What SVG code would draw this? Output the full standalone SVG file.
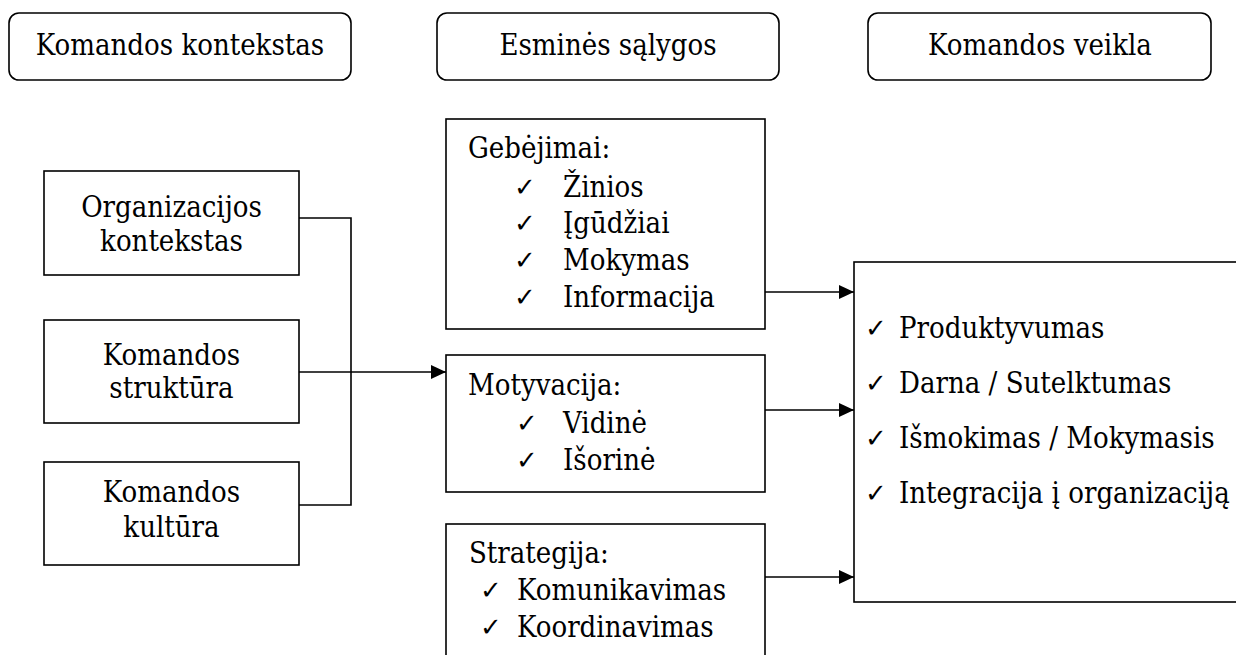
<svg xmlns="http://www.w3.org/2000/svg" width="1236" height="655" viewBox="0 0 1236 655">
<style>
.box{fill:#fff;stroke:#000;stroke-width:1.6}
.t{font-size:29px;fill:#000}
.c{text-anchor:middle}
.ck{font-size:26px;fill:#000}
.ln{fill:none;stroke:#000;stroke-width:1.6}
</style>
<defs>
<marker id="ah" markerUnits="userSpaceOnUse" markerWidth="16" markerHeight="14" refX="15" refY="7" orient="auto">
<path d="M0,0 L15,7 L0,14 Z" fill="#000"/>
</marker>
</defs>
<g id="head1"><rect class="box" x="9" y="13" width="342" height="67" rx="10"/><text class="t c" x="180" y="55" font-family="DejaVu Serif Condensed">Komandos kontekstas</text></g>
<g id="head2"><rect class="box" x="437" y="13" width="342" height="67" rx="10"/><text class="t c" x="608" y="55" font-family="DejaVu Serif Condensed">Esminės sąlygos</text></g>
<g id="head3"><rect class="box" x="868" y="13" width="343" height="67" rx="10"/><text class="t c" x="1040" y="55" font-family="DejaVu Serif Condensed">Komandos veikla</text></g>
<g id="org"><rect class="box" x="44" y="171" width="255" height="104"/><text class="t c" x="171.5" y="217" font-family="DejaVu Serif Condensed">Organizacijos</text><text class="t c" x="171.5" y="251" font-family="DejaVu Serif Condensed">kontekstas</text></g>
<g id="struk"><rect class="box" x="44" y="320" width="255" height="103"/><text class="t c" x="171.5" y="365" font-family="DejaVu Serif Condensed">Komandos</text><text class="t c" x="171.5" y="398" font-family="DejaVu Serif Condensed">struktūra</text></g>
<g id="kult"><rect class="box" x="44" y="462" width="255" height="103"/><text class="t c" x="171.5" y="502" font-family="DejaVu Serif Condensed">Komandos</text><text class="t c" x="171.5" y="537" font-family="DejaVu Serif Condensed">kultūra</text></g>

<g id="geb"><rect class="box" x="446" y="119" width="319" height="210"/>
<text class="t" x="468" y="158" font-family="DejaVu Serif Condensed">Gebėjimai:</text>
<text class="ck" x="514" y="196" font-family="DejaVu Sans">✓</text><text class="t" x="563" y="197" font-family="DejaVu Serif Condensed">Žinios</text>
<text class="ck" x="514" y="232" font-family="DejaVu Sans">✓</text><text class="t" x="563" y="233" font-family="DejaVu Serif Condensed">Įgūdžiai</text>
<text class="ck" x="514" y="269" font-family="DejaVu Sans">✓</text><text class="t" x="563" y="270" font-family="DejaVu Serif Condensed">Mokymas</text>
<text class="ck" x="514" y="306" font-family="DejaVu Sans">✓</text><text class="t" x="563" y="307" font-family="DejaVu Serif Condensed">Informacija</text>
</g>
<g id="mot"><rect class="box" x="446" y="355" width="319" height="137"/>
<text class="t" x="468" y="395" font-family="DejaVu Serif Condensed">Motyvacija:</text>
<text class="ck" x="516" y="432" font-family="DejaVu Sans">✓</text><text class="t" x="563" y="433" font-family="DejaVu Serif Condensed">Vidinė</text>
<text class="ck" x="516" y="469" font-family="DejaVu Sans">✓</text><text class="t" x="563" y="470" font-family="DejaVu Serif Condensed">Išorinė</text>
</g>
<g id="str"><rect class="box" x="446" y="524" width="319" height="150"/>
<text class="t" x="469" y="563" font-family="DejaVu Serif Condensed">Strategija:</text>
<text class="ck" x="480" y="599" font-family="DejaVu Sans">✓</text><text class="t" x="517" y="600" font-family="DejaVu Serif Condensed">Komunikavimas</text>
<text class="ck" x="480" y="636" font-family="DejaVu Sans">✓</text><text class="t" x="517" y="637" font-family="DejaVu Serif Condensed">Koordinavimas</text>
</g>
<g id="res"><rect class="box" x="854" y="262" width="420" height="340"/>
<text class="ck" x="865" y="337" font-family="DejaVu Sans">✓</text><text class="t" x="899" y="338" font-family="DejaVu Serif Condensed">Produktyvumas</text>
<text class="ck" x="865" y="392" font-family="DejaVu Sans">✓</text><text class="t" x="899" y="393" font-family="DejaVu Serif Condensed">Darna / Sutelktumas</text>
<text class="ck" x="865" y="447" font-family="DejaVu Sans">✓</text><text class="t" x="899" y="448" font-family="DejaVu Serif Condensed">Išmokimas / Mokymasis</text>
<text class="ck" x="865" y="502" font-family="DejaVu Sans">✓</text><text class="t" x="899" y="503" font-family="DejaVu Serif Condensed">Integracija į organizaciją</text>
</g>
<g id="connectors">
<path class="ln" d="M299,218 H351 V505 H299"/>
<line class="ln" x1="299" y1="372" x2="446" y2="372" marker-end="url(#ah)"/>
<line class="ln" x1="765" y1="292" x2="854" y2="292" marker-end="url(#ah)"/>
<line class="ln" x1="765" y1="410" x2="854" y2="410" marker-end="url(#ah)"/>
<line class="ln" x1="765" y1="577" x2="854" y2="577" marker-end="url(#ah)"/>
</g>
</svg>
